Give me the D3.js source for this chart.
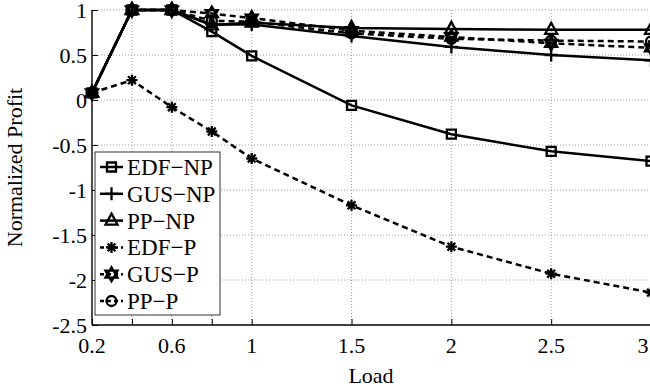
<!DOCTYPE html>
<html>
<body style="margin:0">

<script src="https://d3js.org/d3.v7.min.js"></script>
<style>
  svg { background: #fff; font-family: "Liberation Serif", "Times New Roman", serif; }
  .grid line { stroke: #9a9a9a; stroke-width: 1; stroke-dasharray: 1 2; }
  .tick-lbl { font-size: 22px; fill: #000; }
  .leg-lbl { font-size: 23px; fill: #000; }
</style>

<script>
// data
var loads = [0.2, 0.4, 0.6, 0.8, 1, 1.5, 2, 2.5, 3];

var edfNP = [0.08, 1, 1, 0.76, 0.49, -0.06, -0.38, -0.57, -0.68];
var gusNP = [0.08, 1, 1, 0.84, 0.84, 0.71, 0.59, 0.50, 0.44];
var ppNP  = [0.08, 1, 1, 0.83, 0.86, 0.80, 0.79, 0.78, 0.78];
var edfP  = [0.08, 0.22, -0.08, -0.35, -0.65, -1.17, -1.63, -1.93, -2.14];
var gusP  = [0.08, 1, 1, 0.96, 0.91, 0.77, 0.70, 0.63, 0.58];
var ppP   = [0.08, 1, 1, 0.88, 0.87, 0.74, 0.68, 0.66, 0.65];

var seriesNames = ['EDF\u2212NP', 'GUS\u2212NP', 'PP\u2212NP', 'EDF\u2212P', 'GUS\u2212P', 'PP\u2212P'];

var xTicks = [0.2, 0.4, 0.6, 0.8, 1, 1.5, 2, 2.5, 3];
var xTickLabels = [0.2, 0.6, 1, 1.5, 2, 2.5, 3];
var yTicks = [1, 0.5, 0, -0.5, -1, -1.5, -2, -2.5];

// chart setup
var series = [
  {name: seriesNames[0], values: edfNP, dash: null, mark: 'square'},
  {name: seriesNames[1], values: gusNP, dash: null, mark: 'plus'},
  {name: seriesNames[2], values: ppNP,  dash: null, mark: 'triangle'},
  {name: seriesNames[3], values: edfP,  dash: '6 4', mark: 'asterisk'},
  {name: seriesNames[4], values: gusP,  dash: '6 4', mark: 'hexagram'},
  {name: seriesNames[5], values: ppP,   dash: '6 4', mark: 'circle'}
];

var W = 650, H = 389;
var margin = {top: 10, left: 92, right: -1, bottom: 64};
var width = W - margin.left - margin.right,
    height = H - margin.top - margin.bottom;

const xScale = d3.scaleLinear().domain([0.2, 3]).range([0, width]);
const yScale = d3.scaleLinear().domain([-2.5, 1]).range([height, 0]);

function markerPath(type) {
  var p = d3.path();
  if (type === 'square') {
    p.rect(-4.5, -4.5, 9, 9);
  } else if (type === 'plus') {
    p.moveTo(-6.5, 0); p.lineTo(6.5, 0);
    p.moveTo(0, -6.5); p.lineTo(0, 6.5);
  } else if (type === 'triangle') {
    p.moveTo(0, -7); p.lineTo(6, 4); p.lineTo(-6, 4); p.closePath();
  } else if (type === 'asterisk') {
    for (var k = 0; k < 4; k++) {
      var a = k * Math.PI / 4, r = 5.5;
      p.moveTo(-r * Math.cos(a), -r * Math.sin(a));
      p.lineTo(r * Math.cos(a), r * Math.sin(a));
    }
  } else if (type === 'hexagram') {
    [0, Math.PI].forEach(function(off) {
      for (var k = 0; k < 3; k++) {
        var a = off - Math.PI / 2 + k * 2 * Math.PI / 3, r = 7;
        if (k === 0) p.moveTo(r * Math.cos(a), r * Math.sin(a));
        else p.lineTo(r * Math.cos(a), r * Math.sin(a));
      }
      p.closePath();
    });
  } else if (type === 'circle') {
    p.moveTo(5, 0); p.arc(0, 0, 5, 0, 2 * Math.PI);
  }
  return p.toString();
}

var svg = d3.select('body').append('svg')
    .attr('width', W)
    .attr('height', H)
  .append('g')
    .attr('transform', `translate(${margin.left}, ${margin.top})`);

// grid
var grid = svg.append('g').attr('class', 'grid');
grid.selectAll('.gx')
  .data(xTicks.filter(d => d > 0.2 && d < 3))
  .enter().append('line')
    .attr('x1', d => xScale(d)).attr('x2', d => xScale(d))
    .attr('y1', 0).attr('y2', height);
grid.selectAll('.gy')
  .data(yTicks.filter(d => d > -2.5))
  .enter().append('line')
    .attr('x1', 0).attr('x2', width)
    .attr('y1', d => yScale(d)).attr('y2', d => yScale(d));

// axes (MATLAB style, ticks inward)
const xAxis = d3.axisBottom(xScale)
  .tickValues(xTicks)
  .tickSize(-6)
  .tickFormat('');
const yAxis = d3.axisLeft(yScale)
  .tickValues(yTicks)
  .tickSize(-6)
  .tickFormat('');

svg.append('g')
  .attr('transform', `translate(0, ${height})`)
  .call(xAxis)
  .call(g => g.select('.domain').attr('d', `M0,0H${width}`).attr('stroke', '#000').attr('stroke-width', 1.4))
  .call(g => g.selectAll('.tick line').attr('stroke', '#000'));

svg.append('g')
  .call(yAxis)
  .call(g => g.select('.domain').attr('d', `M0,${height}V0`).attr('stroke', '#000').attr('stroke-width', 1.4))
  .call(g => g.selectAll('.tick line').attr('stroke', '#000'));

svg.selectAll('.xlbl')
  .data(xTickLabels)
  .enter().append('text')
    .attr('class', 'tick-lbl')
    .attr('x', d => Math.min(xScale(d), width - 8))
    .attr('y', height + 28)
    .attr('text-anchor', 'middle')
    .text(d => d);

svg.selectAll('.ylbl')
  .data(yTicks)
  .enter().append('text')
    .attr('class', 'tick-lbl')
    .attr('x', -5)
    .attr('y', d => yScale(d))
    .attr('dy', '0.36em')
    .attr('text-anchor', 'end')
    .text(d => d);

// axis titles
svg.append('text')
  .attr('class', 'tick-lbl')
  .attr('x', (650 - margin.left) / 2)
  .attr('y', height + 58)
  .attr('text-anchor', 'middle')
  .text('Load');

svg.append('text')
  .attr('class', 'tick-lbl')
  .attr('transform', `translate(${-70}, ${height / 2}) rotate(-90)`)
  .attr('text-anchor', 'middle')
  .text('Normalized Profit');

// lines + markers
const line = d3.line()
  .x((d, i) => xScale(loads[i]))
  .y(d => yScale(d));

series.forEach(s => {
  svg.append('path')
    .datum(s.values)
    .attr('d', line)
    .attr('fill', 'none')
    .attr('stroke', '#000')
    .attr('stroke-width', 2.5)
    .attr('stroke-dasharray', s.dash);

  svg.selectAll(null)
    .data(s.values)
    .enter().append('path')
      .attr('transform', (d, i) => `translate(${xScale(loads[i])}, ${yScale(d)})`)
      .attr('d', markerPath(s.mark))
      .attr('fill', 'none')
      .attr('stroke', '#000')
      .attr('stroke-width', 2.3);
});

// legend
var legend = svg.append('g').attr('transform', 'translate(3, 142)');
legend.append('rect')
  .attr('width', 125).attr('height', 163)
  .attr('fill', '#fff')
  .attr('stroke', '#333').attr('stroke-width', 1);

var rows = legend.selectAll('.row')
  .data(series)
  .enter().append('g')
    .attr('transform', (d, i) => `translate(0, ${15 + i * 26.8})`);

rows.append('line')
  .attr('x1', 5).attr('x2', 28)
  .attr('stroke', '#000').attr('stroke-width', 2.5)
  .attr('stroke-dasharray', d => d.dash ? '4 3' : null);
rows.append('path')
  .attr('transform', 'translate(16.5, 0)')
  .attr('d', d => markerPath(d.mark))
  .attr('fill', 'none').attr('stroke', '#000').attr('stroke-width', 2.3);
rows.append('text')
  .attr('class', 'leg-lbl')
  .attr('x', 32).attr('dy', '0.35em')
  .text(d => d.name);
</script>
</body>
</html>
